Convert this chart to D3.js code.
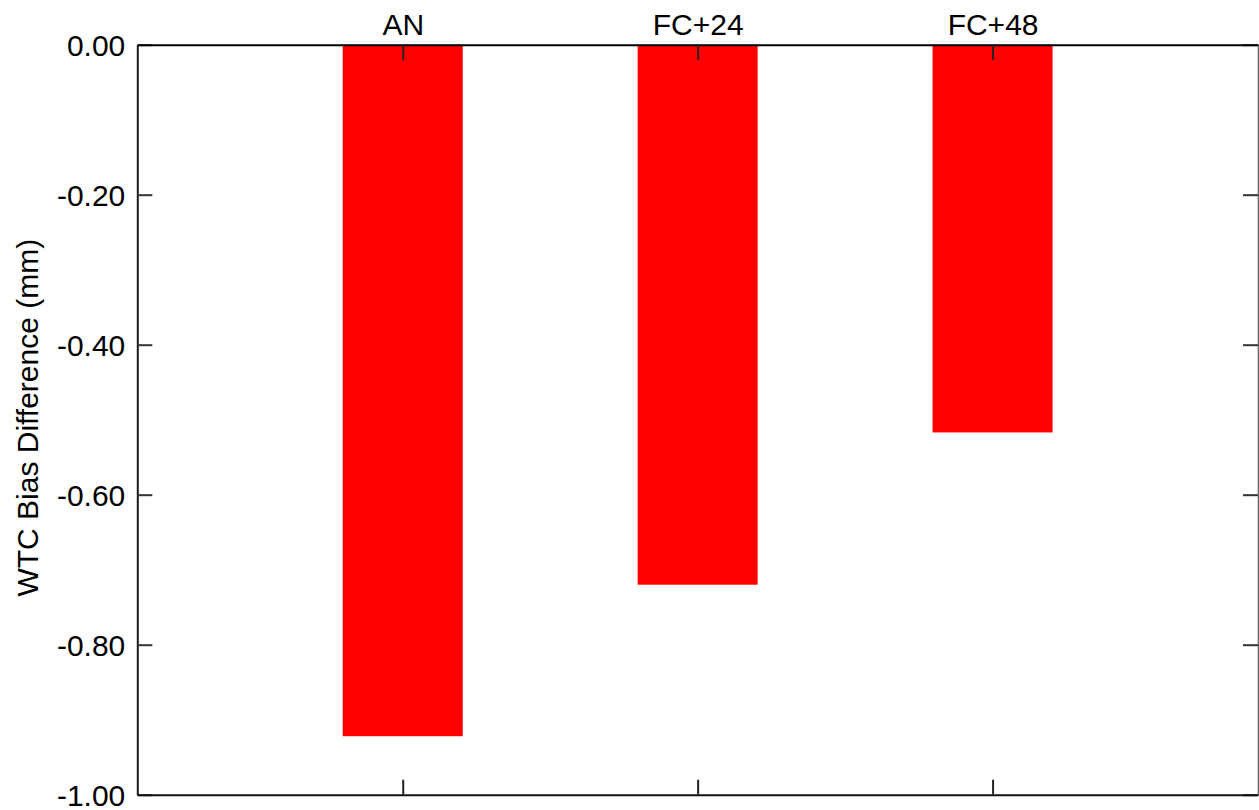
<!DOCTYPE html>
<html>
<head>
<meta charset="utf-8">
<script src="https://cdn.jsdelivr.net/npm/d3@7"></script>
<style>
  html, body { margin: 0; padding: 0; background: #fff; }
  svg { display: block; font-family: "Liberation Sans", Arial, sans-serif; }
</style>
</head>
<body>
<svg id="chart" width="1259" height="810"></svg>
<script>
// Forecast lead categories and the WTC bias difference for each (mm)
const categories = ["AN", "FC+24", "FC+48"];
const biasDiff = [-0.922, -0.72, -0.517];
const yTicks = [0, -0.2, -0.4, -0.6, -0.8, -1.0];
const yTitle = "WTC Bias Difference (mm)";

const W = 1259, H = 810;
const m = { left: 137.3, right: 1258, top: 44.7, bottom: 794.7 };
const barWidth = 120;
const tickLen = 15;
const fontSize = 30;

const svg = d3.select("#chart");

const x = d3.scalePoint()
  .domain(categories)
  .range([m.left, m.right])
  .padding(0.9);

const y = d3.scaleLinear()
  .domain([-1, 0])
  .range([m.bottom, m.top]);

// Plain hyphen for negative tick values
const fmt = d3.formatLocale({ decimal: ".", thousands: ",", grouping: [3], currency: ["", ""], minus: "-" }).format(".2f");

// Bars hang down from the zero line
svg.append("g")
  .selectAll("rect")
  .data(categories.map((c, i) => ({ c, v: biasDiff[i] })))
  .join("rect")
  .attr("x", d => x(d.c) - barWidth / 2)
  .attr("width", barWidth)
  .attr("y", d => y(0))
  .attr("height", d => y(d.v) - y(0))
  .attr("fill", "#ff0000");

// Left axis: inward ticks, labels on the outside
const leftAxis = d3.axisLeft(y)
  .tickValues(yTicks)
  .tickSizeInner(-tickLen)
  .tickSizeOuter(0)
  .tickPadding(12)
  .tickFormat(fmt);

const gl = svg.append("g")
  .attr("transform", `translate(${m.left},0)`)
  .call(leftAxis);
gl.select(".domain").attr("stroke", "#1a1a1a").attr("stroke-width", 2);
gl.selectAll(".tick line").attr("stroke", "#333").attr("stroke-width", 2);
gl.selectAll(".tick text")
  .attr("font-size", fontSize)
  .attr("font-family", "Liberation Sans, Arial, sans-serif")
  .attr("fill", "#000")
  .attr("dy", "0.35em");

// Right axis: ticks only
const rightAxis = d3.axisRight(y)
  .tickValues(yTicks)
  .tickSizeInner(-tickLen)
  .tickSizeOuter(0)
  .tickFormat("");
const gr = svg.append("g")
  .attr("transform", `translate(${m.right},0)`)
  .call(rightAxis);
gr.select(".domain").attr("stroke", "#666").attr("stroke-width", 1.6);
gr.selectAll(".tick line").attr("stroke", "#333").attr("stroke-width", 2);

// Top axis: category labels above the frame
const topAxis = d3.axisTop(x)
  .tickSizeInner(-tickLen)
  .tickSizeOuter(0)
  .tickPadding(10);
const gt = svg.append("g")
  .attr("transform", `translate(0,${m.top})`)
  .call(topAxis);
gt.select(".domain").attr("stroke", "#000").attr("stroke-width", 2);
gt.selectAll(".tick line").attr("stroke", "#222").attr("stroke-width", 2);
gt.selectAll(".tick text")
  .attr("font-size", fontSize)
  .attr("font-family", "Liberation Sans, Arial, sans-serif")
  .attr("fill", "#000");

// Bottom axis: ticks only
const bottomAxis = d3.axisBottom(x)
  .tickSizeInner(-tickLen)
  .tickSizeOuter(0)
  .tickFormat("");
const gb = svg.append("g")
  .attr("transform", `translate(0,${m.bottom})`)
  .call(bottomAxis);
gb.select(".domain").attr("stroke", "#111").attr("stroke-width", 2);
gb.selectAll(".tick line").attr("stroke", "#222").attr("stroke-width", 2);

// Y-axis title
svg.append("text")
  .attr("transform", `translate(38,${(m.top + m.bottom) / 2 - 2}) rotate(-90)`)
  .attr("text-anchor", "middle")
  .attr("font-size", fontSize)
  .attr("fill", "#000")
  .text(yTitle);
</script>
</body>
</html>
